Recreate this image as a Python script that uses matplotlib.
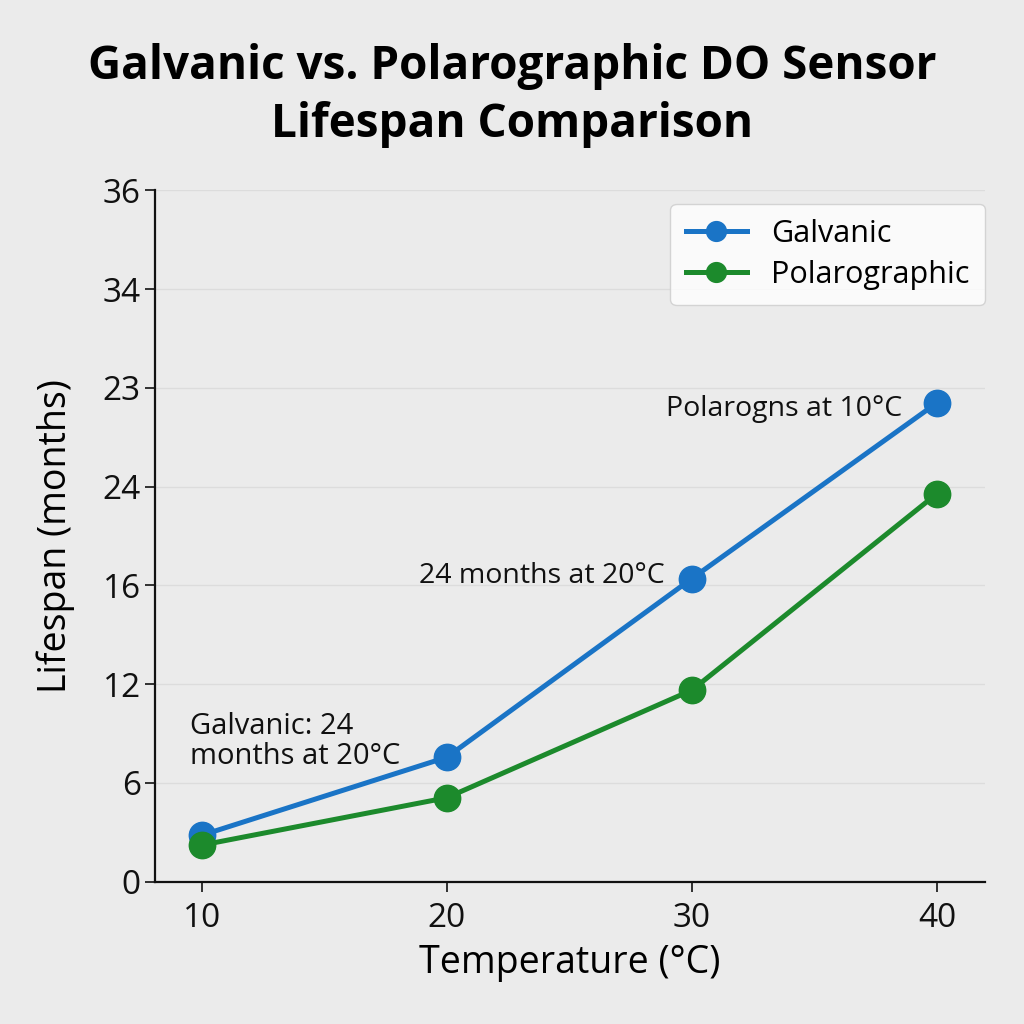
import matplotlib
matplotlib.use("Agg")
import matplotlib.pyplot as plt

# Data (y values in tick-position units; y tick labels are as printed on the chart)
temperatures = [10, 20, 30, 40]
galvanic = [0.47, 1.26, 3.07, 4.85]
polarographic = [0.37, 0.85, 1.94, 3.93]
y_tick_labels = ["0", "6", "12", "16", "24", "23", "34", "36"]
x_tick_labels = ["10", "20", "30", "40"]

plt.rcParams['font.family'] = ['Open Sans', 'DejaVu Sans']
bg = "#ebebeb"
fig = plt.figure(figsize=(10.24, 10.24), dpi=100, facecolor=bg)
ax = fig.add_axes([0.151, 0.139, 0.811, 0.675], facecolor=bg)

blue = "#1a74c6"
green = "#1c8a2c"
ax.plot(temperatures, galvanic, color=blue, lw=3.6, marker="o", ms=19, label="Galvanic", zorder=3)
ax.plot(temperatures, polarographic, color=green, lw=3.6, marker="o", ms=19, label="Polarographic", zorder=4)

ax.set_xlim(8.08, 41.96)
ax.set_ylim(0, 7)
ax.set_yticks(range(len(y_tick_labels)))
ax.set_yticklabels(y_tick_labels)
ax.set_xticks(temperatures)
ax.set_xticklabels(x_tick_labels)
ax.tick_params(axis="both", labelsize=24, length=7, width=1.2, colors="#111111")
ax.tick_params(axis="x", pad=8)
ax.tick_params(axis="y", pad=3)
for s in ["top", "right"]:
    ax.spines[s].set_visible(False)
for s in ["left", "bottom"]:
    ax.spines[s].set_linewidth(1.6)
    ax.spines[s].set_color("#111111")
ax.yaxis.grid(True, color="#dcdcdc", lw=1.0)
ax.set_axisbelow(True)

ax.set_xlabel("Temperature (°C)", fontsize=27, labelpad=6)
ax.set_ylabel("Lifespan (months)", fontsize=27, labelpad=20)

fig.suptitle("Galvanic vs. Polarographic DO Sensor\nLifespan Comparison",
             fontsize=33, fontweight="bold", y=0.958, linespacing=1.3)

leg = ax.legend(loc="upper right", fontsize=22, frameon=True, fancybox=True,
                borderpad=0.5, handlelength=2.0, markerscale=0.75, labelspacing=0.35,
                borderaxespad=0, bbox_to_anchor=(1.0, 0.981))
leg.get_frame().set_facecolor("white")
leg.get_frame().set_edgecolor("#cccccc")

ax.text(38.6, 4.79, "Polarogns at 10°C", fontsize=20.5, ha="right", va="center", color="#111111")
ax.text(28.9, 3.10, "24 months at 20°C", fontsize=20.5, ha="right", va="center", color="#111111")
ax.text(9.51, 1.42, "Galvanic: 24\nmonths at 20°C", fontsize=21, ha="left", va="center",
        color="#111111", linespacing=1.05)

fig.savefig("out.png", dpi=100, facecolor=bg)
